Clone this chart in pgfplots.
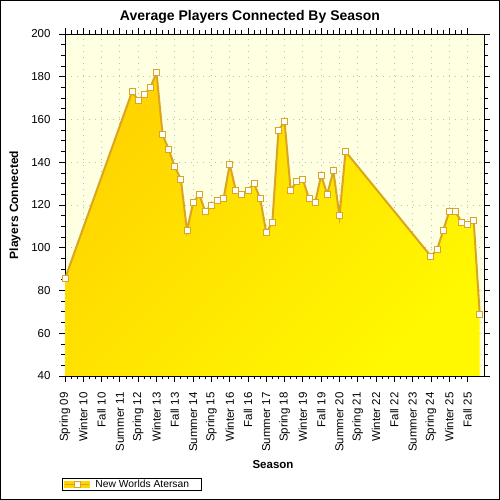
\documentclass[border=0pt]{standalone}
\usepackage{pgfplots}
\pgfplotsset{compat=1.18}
\usepackage{fontspec}
\setmainfont{Liberation Sans}
\definecolor{goldline}{RGB}{218,165,32}
\definecolor{fillA}{RGB}{255,212,0}
\definecolor{fillB}{RGB}{255,248,0}
\definecolor{bgyel}{RGB}{255,255,225}
\definecolor{gridc}{RGB}{190,190,190}
\begin{document}
\begin{tikzpicture}[x=1pt,y=1pt]
\useasboundingbox (0,0) rectangle (500,500);
\fill[white] (0,0) rectangle (500,500);
\draw[black, line width=1pt] (0.5,0.5) rectangle (499.5,499.5);
\begin{axis}[
  at={(65pt,124pt)}, anchor=south west,
  scale only axis, width=419pt, height=342pt,
  xmin=0, xmax=68.7, ymin=40, ymax=200,
  xtick={0,3,...,66},
  xticklabels={Spring 09, Winter 10, Fall 10, Summer 11, Spring 12, Winter 13, Fall 13, Summer 14, Spring 15, Winter 16, Fall 16, Summer 17, Spring 18, Winter 19, Fall 19, Summer 20, Spring 21, Winter 22, Fall 22, Summer 23, Spring 24, Winter 25, Fall 25},
  minor x tick num=2,
  ytick={40,60,...,200}, minor y tick num=3,
  grid=major,
  major grid style={gridc, line width=0.8pt, dash pattern=on 1pt off 5pt},
  axis background/.style={fill=bgyel},
  axis line style={black, line width=0.8pt},
  tick style={black, line width=0.8pt},
  tick align=outside,
  xtick pos=both, ytick pos=both,
  major tick length=6pt, minor tick length=3.5pt,
  ticklabel style={font=\fontsize{11.5}{13}\selectfont},
  /pgf/number format/assume math mode=true,
  xticklabel style={rotate=90, anchor=east},
  yticklabel style={anchor=east},
  xticklabel shift=7pt,
  yticklabel shift=5pt,
  legend style={at={(-0.0072,-0.2982)}, anchor=north west, draw=black, line width=0.8pt,
    font=\fontsize{10.3}{12}\selectfont, inner xsep=2pt, inner ysep=0pt,
    nodes={inner ysep=1.5pt, inner xsep=5pt}},
  legend image code/.code={
    \fill[fillA] (0pt,-2.8pt) rectangle (24pt,2.8pt);
    \draw[goldline, line width=1.5pt] (0pt,0pt) -- (24pt,0pt);
    \draw[goldline, fill=white, line width=0.8pt] (9pt,-3pt) rectangle (15pt,3pt);
  },
]
\addplot[draw=none, top color=fillA, bottom color=fillB, shading angle=45, forget plot] coordinates {
(0,85.5) (11,173) (12,169) (13,171.5) (14,175) (15,182) (16,153) (17,146) (18,138) (19,132)
(20,108) (21,121) (22,125) (23,117) (24,120) (25,122) (26,123) (27,139) (28,127) (29,125)
(30,127) (31,130) (32,123) (33,107) (34,112) (35,155) (36,159) (37,127) (38,131) (39,132)
(40,123) (41,121) (42,134) (43,125) (44,136) (45,115) (46,145)
(60,96) (61,99) (62,108) (63,117) (64,117) (65,112) (66,111) (67,113) (68,69)
} \closedcycle;
\addplot[goldline, line width=2pt, mark=square*, mark size=3pt,
  mark options={fill=white, draw=goldline, line width=0.9pt, solid}] coordinates {
(0,85.5) (11,173) (12,169) (13,171.5) (14,175) (15,182) (16,153) (17,146) (18,138) (19,132)
(20,108) (21,121) (22,125) (23,117) (24,120) (25,122) (26,123) (27,139) (28,127) (29,125)
(30,127) (31,130) (32,123) (33,107) (34,112) (35,155) (36,159) (37,127) (38,131) (39,132)
(40,123) (41,121) (42,134) (43,125) (44,136) (45,115) (46,145)
(60,96) (61,99) (62,108) (63,117) (64,117) (65,112) (66,111) (67,113) (68,69)
};
\addlegendentry{New Worlds Atersan\kern5pt}
\end{axis}
\node[font=\bfseries\fontsize{14}{16}\selectfont] at (250,483) {Average Players Connected By Season};
\node[rotate=90, font=\bfseries\fontsize{12}{14}\selectfont] at (15,295) {Players Connected};
\node[font=\bfseries\fontsize{11.5}{13}\selectfont] at (273,35) {Season};
\end{tikzpicture}
\end{document}
